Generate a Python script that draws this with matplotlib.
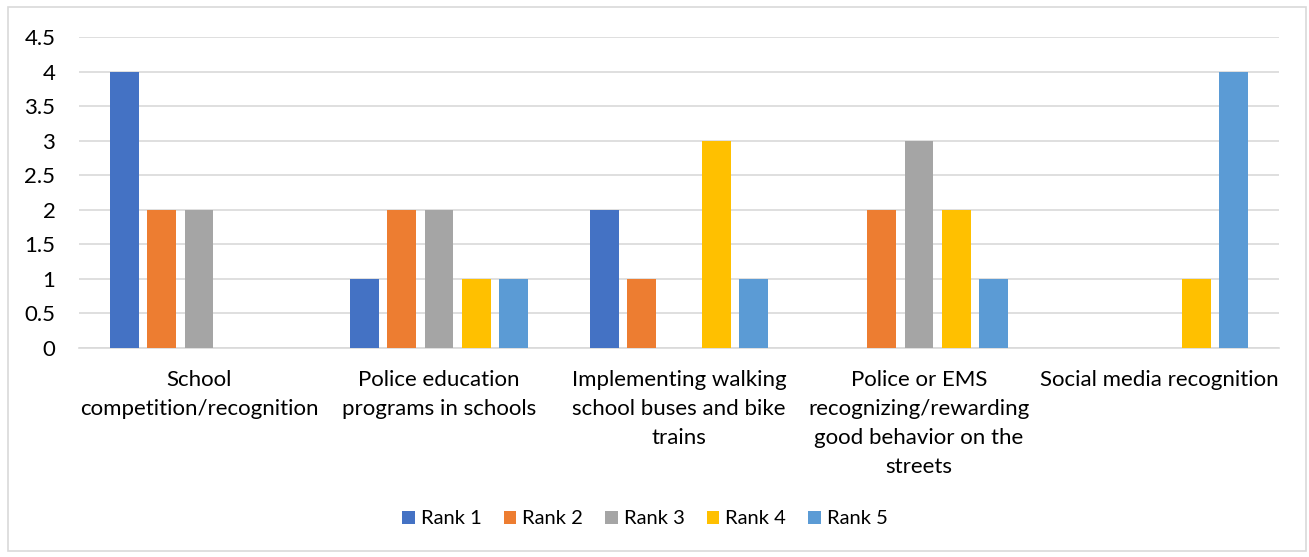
import matplotlib
matplotlib.use("Agg")
import matplotlib.pyplot as plt
from matplotlib.patches import Rectangle
import numpy as np

categories = [
    "School\ncompetition/recognition",
    "Police education\nprograms in schools",
    "Implementing walking\nschool buses and bike\ntrains",
    "Police or EMS\nrecognizing/rewarding\ngood behavior on the\nstreets",
    "Social media recognition",
]
series_names = ["Rank 1", "Rank 2", "Rank 3", "Rank 4", "Rank 5"]
rank1 = [4, 1, 2, 0, 0]
rank2 = [2, 2, 1, 2, 0]
rank3 = [2, 2, 0, 3, 0]
rank4 = [0, 1, 3, 2, 1]
rank5 = [0, 1, 1, 1, 4]
colors = ["#4472C4", "#ED7D31", "#A5A5A5", "#FFC000", "#5B9BD5"]
yticks = [0, 0.5, 1, 1.5, 2, 2.5, 3, 3.5, 4, 4.5]

plt.rcParams["font.family"] = ["Lato", "DejaVu Sans"]
FS = 16

W, H = 1309, 557
fig = plt.figure(figsize=(W / 100, H / 100), dpi=100)
fig.patch.set_facecolor("white")
fig.add_artist(Rectangle((8 / W, 1 - 551 / H), (1306 - 8) / W, (551 - 7) / H,
                         transform=fig.transFigure, fill=False,
                         edgecolor="#d9d9d9", linewidth=1.2))

ax = fig.add_axes([79 / W, 1 - 348 / H, (1279 - 79) / W, (348 - 37) / H])
x = np.arange(len(categories))
spacing = 0.155
width = 0.12
for i, (vals, name) in enumerate(zip([rank1, rank2, rank3, rank4, rank5], series_names)):
    ax.bar(x + (i - 2) * spacing, vals, width, color=colors[i], label=name, zorder=3)

ax.set_xlim(-0.5, len(categories) - 0.5)
ax.set_ylim(0, 4.5)
ax.set_yticks(yticks)
ax.set_yticklabels([f"{t:g}" for t in yticks], fontsize=FS, color="#000000")
ax.yaxis.grid(True, color="#d9d9d9", linewidth=1.2, zorder=0)
ax.set_xticks(x)
ax.set_xticklabels(categories, fontsize=FS, linespacing=1.56, va="top")
ax.tick_params(axis="both", length=0)
ax.tick_params(axis="y", pad=17)
ax.tick_params(axis="x", pad=16)
for s in ["top", "right", "left"]:
    ax.spines[s].set_visible(False)
ax.spines["bottom"].set_color("#d9d9d9")
ax.spines["bottom"].set_linewidth(1.2)

fig.legend(loc="center", bbox_to_anchor=(645 / W, 1 - 519 / H), ncol=5,
           frameon=False, fontsize=14.5, handlelength=0.62, handleheight=0.62,
           handletextpad=0.3, columnspacing=1.1)

fig.savefig("out.png", dpi=100)
